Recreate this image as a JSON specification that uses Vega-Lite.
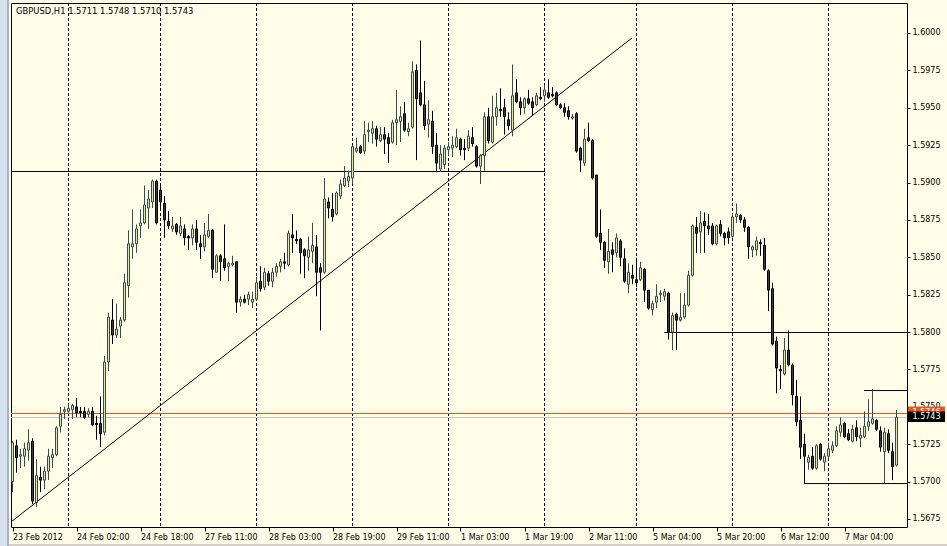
{
  "$schema": "https://vega.github.io/schema/vega-lite/v6.json",
  "width": 896,
  "height": 524,
  "autosize": "none",
  "padding": {"left": 11, "top": 3, "right": 40, "bottom": 19},
  "background": "#FFFDE7",
  "config": {
    "view": {"stroke": "#000000", "strokeWidth": 1},
    "font": "DejaVu Sans",
    "axis": {"labelFont": "DejaVu Sans", "labelFontSize": 8, "labelColor": "#000000", "tickColor": "#000000", "domain": false, "grid": false, "labelFlush": false, "labelOverlap": false},
    "axisX": {"tickSize": 4, "labelAlign": "left", "labelPadding": 2, "labelDx": -1},
    "axisY": {"tickSize": 3, "labelPadding": 2}
  },
  "datasets": {
    "candles": [
      {"i":0,"o":1.5700,"h":1.5727,"l":1.5693,"c":1.5726},
      {"i":1,"o":1.5724,"h":1.5728,"l":1.5706,"c":1.5716},
      {"i":2,"o":1.5717,"h":1.5722,"l":1.5709,"c":1.5718},
      {"i":3,"o":1.5717,"h":1.5726,"l":1.5710,"c":1.5722},
      {"i":4,"o":1.5721,"h":1.5735,"l":1.5714,"c":1.5726},
      {"i":5,"o":1.5727,"h":1.5729,"l":1.5685,"c":1.5687},
      {"i":6,"o":1.5686,"h":1.5715,"l":1.5683,"c":1.5704},
      {"i":7,"o":1.5703,"h":1.5710,"l":1.5693,"c":1.5701},
      {"i":8,"o":1.5701,"h":1.5710,"l":1.5695,"c":1.5707},
      {"i":9,"o":1.5707,"h":1.5722,"l":1.5701,"c":1.5717},
      {"i":10,"o":1.5716,"h":1.5722,"l":1.5709,"c":1.5718},
      {"i":11,"o":1.5718,"h":1.5737,"l":1.5717,"c":1.5736},
      {"i":12,"o":1.5737,"h":1.5750,"l":1.5733,"c":1.5745},
      {"i":13,"o":1.5747,"h":1.5750,"l":1.5742,"c":1.5748},
      {"i":14,"o":1.5747,"h":1.5752,"l":1.5746,"c":1.5749},
      {"i":15,"o":1.5748,"h":1.5752,"l":1.5742,"c":1.5751},
      {"i":16,"o":1.5750,"h":1.5756,"l":1.5743,"c":1.5746},
      {"i":17,"o":1.5747,"h":1.5750,"l":1.5743,"c":1.5746},
      {"i":18,"o":1.5747,"h":1.5750,"l":1.5742,"c":1.5743},
      {"i":19,"o":1.5745,"h":1.5749,"l":1.5743,"c":1.5747},
      {"i":20,"o":1.5747,"h":1.5750,"l":1.5737,"c":1.5738},
      {"i":21,"o":1.5739,"h":1.5744,"l":1.5728,"c":1.5738},
      {"i":22,"o":1.5739,"h":1.5757,"l":1.5723,"c":1.5732},
      {"i":23,"o":1.5733,"h":1.5784,"l":1.5731,"c":1.5780},
      {"i":24,"o":1.5780,"h":1.5813,"l":1.5774,"c":1.5810},
      {"i":25,"o":1.5808,"h":1.5822,"l":1.5792,"c":1.5798},
      {"i":26,"o":1.5798,"h":1.5819,"l":1.5796,"c":1.5802},
      {"i":27,"o":1.5804,"h":1.5810,"l":1.5796,"c":1.5808},
      {"i":28,"o":1.5808,"h":1.5839,"l":1.5807,"c":1.5833},
      {"i":29,"o":1.5831,"h":1.5868,"l":1.5823,"c":1.5859},
      {"i":30,"o":1.5857,"h":1.5882,"l":1.5849,"c":1.5859},
      {"i":31,"o":1.5859,"h":1.5872,"l":1.5853,"c":1.5869},
      {"i":32,"o":1.5871,"h":1.5882,"l":1.5863,"c":1.5873},
      {"i":33,"o":1.5873,"h":1.5898,"l":1.5872,"c":1.5885},
      {"i":34,"o":1.5883,"h":1.5895,"l":1.5869,"c":1.5889},
      {"i":35,"o":1.5887,"h":1.5902,"l":1.5883,"c":1.5901},
      {"i":36,"o":1.5901,"h":1.5902,"l":1.5872,"c":1.5873},
      {"i":37,"o":1.5895,"h":1.5898,"l":1.5883,"c":1.5887},
      {"i":38,"o":1.5886,"h":1.5891,"l":1.5863,"c":1.5875},
      {"i":39,"o":1.5874,"h":1.5881,"l":1.5869,"c":1.5871},
      {"i":40,"o":1.5869,"h":1.5877,"l":1.5867,"c":1.5871},
      {"i":41,"o":1.5872,"h":1.5873,"l":1.5865,"c":1.5867},
      {"i":42,"o":1.5866,"h":1.5877,"l":1.5864,"c":1.5871},
      {"i":43,"o":1.5869,"h":1.5872,"l":1.5858,"c":1.5863},
      {"i":44,"o":1.5864,"h":1.5865,"l":1.5855,"c":1.5863},
      {"i":45,"o":1.5863,"h":1.5872,"l":1.5858,"c":1.5869},
      {"i":46,"o":1.5869,"h":1.5875,"l":1.5855,"c":1.5860},
      {"i":47,"o":1.5859,"h":1.5865,"l":1.5849,"c":1.5857},
      {"i":48,"o":1.5857,"h":1.5873,"l":1.5854,"c":1.5865},
      {"i":49,"o":1.5864,"h":1.5879,"l":1.5863,"c":1.5868},
      {"i":50,"o":1.5868,"h":1.5869,"l":1.5836,"c":1.5842},
      {"i":51,"o":1.5840,"h":1.5852,"l":1.5840,"c":1.5851},
      {"i":52,"o":1.5851,"h":1.5852,"l":1.5834,"c":1.5847},
      {"i":53,"o":1.5849,"h":1.5872,"l":1.5841,"c":1.5843},
      {"i":54,"o":1.5844,"h":1.5847,"l":1.5834,"c":1.5846},
      {"i":55,"o":1.5845,"h":1.5851,"l":1.5844,"c":1.5846},
      {"i":56,"o":1.5847,"h":1.5847,"l":1.5813,"c":1.5820},
      {"i":57,"o":1.5820,"h":1.5824,"l":1.5817,"c":1.5822},
      {"i":58,"o":1.5822,"h":1.5825,"l":1.5819,"c":1.5820},
      {"i":59,"o":1.5822,"h":1.5827,"l":1.5818,"c":1.5825},
      {"i":60,"o":1.5820,"h":1.5827,"l":1.5816,"c":1.5822},
      {"i":61,"o":1.5822,"h":1.5837,"l":1.5821,"c":1.5833},
      {"i":62,"o":1.5834,"h":1.5844,"l":1.5827,"c":1.5829},
      {"i":63,"o":1.5830,"h":1.5843,"l":1.5828,"c":1.5840},
      {"i":64,"o":1.5839,"h":1.5841,"l":1.5831,"c":1.5834},
      {"i":65,"o":1.5834,"h":1.5843,"l":1.5830,"c":1.5840},
      {"i":66,"o":1.5840,"h":1.5846,"l":1.5837,"c":1.5844},
      {"i":67,"o":1.5844,"h":1.5849,"l":1.5840,"c":1.5847},
      {"i":68,"o":1.5847,"h":1.5853,"l":1.5842,"c":1.5846},
      {"i":69,"o":1.5845,"h":1.5868,"l":1.5844,"c":1.5866},
      {"i":70,"o":1.5865,"h":1.5879,"l":1.5853,"c":1.5863},
      {"i":71,"o":1.5862,"h":1.5868,"l":1.5859,"c":1.5861},
      {"i":72,"o":1.5862,"h":1.5863,"l":1.5839,"c":1.5853},
      {"i":73,"o":1.5855,"h":1.5856,"l":1.5836,"c":1.5851},
      {"i":74,"o":1.5850,"h":1.5864,"l":1.5841,"c":1.5855},
      {"i":75,"o":1.5854,"h":1.5873,"l":1.5846,"c":1.5858},
      {"i":76,"o":1.5857,"h":1.5865,"l":1.5824,"c":1.5840},
      {"i":77,"o":1.5843,"h":1.5846,"l":1.5801,"c":1.5840},
      {"i":78,"o":1.5840,"h":1.5903,"l":1.5839,"c":1.5889},
      {"i":79,"o":1.5887,"h":1.5890,"l":1.5876,"c":1.5883},
      {"i":80,"o":1.5882,"h":1.5893,"l":1.5874,"c":1.5877},
      {"i":81,"o":1.5879,"h":1.5894,"l":1.5878,"c":1.5893},
      {"i":82,"o":1.5891,"h":1.5902,"l":1.5889,"c":1.5899},
      {"i":83,"o":1.5898,"h":1.5911,"l":1.5897,"c":1.5903},
      {"i":84,"o":1.5901,"h":1.5908,"l":1.5897,"c":1.5904},
      {"i":85,"o":1.5903,"h":1.5925,"l":1.5899,"c":1.5924},
      {"i":86,"o":1.5921,"h":1.5930,"l":1.5920,"c":1.5923},
      {"i":87,"o":1.5924,"h":1.5925,"l":1.5919,"c":1.5920},
      {"i":88,"o":1.5921,"h":1.5941,"l":1.5919,"c":1.5932},
      {"i":89,"o":1.5934,"h":1.5940,"l":1.5927,"c":1.5935},
      {"i":90,"o":1.5933,"h":1.5941,"l":1.5926,"c":1.5936},
      {"i":91,"o":1.5936,"h":1.5938,"l":1.5924,"c":1.5929},
      {"i":92,"o":1.5928,"h":1.5937,"l":1.5927,"c":1.5932},
      {"i":93,"o":1.5932,"h":1.5937,"l":1.5919,"c":1.5929},
      {"i":94,"o":1.5930,"h":1.5933,"l":1.5913,"c":1.5926},
      {"i":95,"o":1.5927,"h":1.5942,"l":1.5926,"c":1.5940},
      {"i":96,"o":1.5940,"h":1.5962,"l":1.5925,"c":1.5942},
      {"i":97,"o":1.5941,"h":1.5951,"l":1.5927,"c":1.5944},
      {"i":98,"o":1.5946,"h":1.5954,"l":1.5934,"c":1.5935},
      {"i":99,"o":1.5934,"h":1.5940,"l":1.5931,"c":1.5936},
      {"i":100,"o":1.5937,"h":1.5981,"l":1.5936,"c":1.5974},
      {"i":101,"o":1.5975,"h":1.5979,"l":1.5915,"c":1.5956},
      {"i":102,"o":1.5960,"h":1.5995,"l":1.5951,"c":1.5952},
      {"i":103,"o":1.5952,"h":1.5968,"l":1.5935,"c":1.5938},
      {"i":104,"o":1.5939,"h":1.5955,"l":1.5930,"c":1.5942},
      {"i":105,"o":1.5941,"h":1.5948,"l":1.5919,"c":1.5924},
      {"i":106,"o":1.5925,"h":1.5933,"l":1.5907,"c":1.5913},
      {"i":107,"o":1.5909,"h":1.5925,"l":1.5907,"c":1.5919},
      {"i":108,"o":1.5912,"h":1.5925,"l":1.5909,"c":1.5923},
      {"i":109,"o":1.5922,"h":1.5927,"l":1.5918,"c":1.5924},
      {"i":110,"o":1.5923,"h":1.5931,"l":1.5917,"c":1.5925},
      {"i":111,"o":1.5924,"h":1.5936,"l":1.5923,"c":1.5930},
      {"i":112,"o":1.5929,"h":1.5930,"l":1.5918,"c":1.5922},
      {"i":113,"o":1.5923,"h":1.5929,"l":1.5915,"c":1.5922},
      {"i":114,"o":1.5923,"h":1.5935,"l":1.5921,"c":1.5931},
      {"i":115,"o":1.5930,"h":1.5937,"l":1.5924,"c":1.5926},
      {"i":116,"o":1.5924,"h":1.5925,"l":1.5910,"c":1.5911},
      {"i":117,"o":1.5911,"h":1.5919,"l":1.5899,"c":1.5918},
      {"i":118,"o":1.5918,"h":1.5947,"l":1.5908,"c":1.5944},
      {"i":119,"o":1.5944,"h":1.5950,"l":1.5926,"c":1.5928},
      {"i":120,"o":1.5927,"h":1.5958,"l":1.5926,"c":1.5944},
      {"i":121,"o":1.5944,"h":1.5960,"l":1.5938,"c":1.5950},
      {"i":122,"o":1.5949,"h":1.5963,"l":1.5944,"c":1.5948},
      {"i":123,"o":1.5950,"h":1.5956,"l":1.5932,"c":1.5944},
      {"i":124,"o":1.5942,"h":1.5947,"l":1.5935,"c":1.5938},
      {"i":125,"o":1.5935,"h":1.5979,"l":1.5931,"c":1.5958},
      {"i":126,"o":1.5960,"h":1.5969,"l":1.5953,"c":1.5954},
      {"i":127,"o":1.5954,"h":1.5957,"l":1.5945,"c":1.5950},
      {"i":128,"o":1.5950,"h":1.5957,"l":1.5946,"c":1.5956},
      {"i":129,"o":1.5956,"h":1.5962,"l":1.5952,"c":1.5953},
      {"i":130,"o":1.5954,"h":1.5957,"l":1.5945,"c":1.5950},
      {"i":131,"o":1.5952,"h":1.5960,"l":1.5951,"c":1.5958},
      {"i":132,"o":1.5957,"h":1.5964,"l":1.5955,"c":1.5956},
      {"i":133,"o":1.5958,"h":1.5965,"l":1.5954,"c":1.5962},
      {"i":134,"o":1.5960,"h":1.5969,"l":1.5956,"c":1.5957},
      {"i":135,"o":1.5959,"h":1.5964,"l":1.5957,"c":1.5958},
      {"i":136,"o":1.5960,"h":1.5961,"l":1.5951,"c":1.5952},
      {"i":137,"o":1.5952,"h":1.5953,"l":1.5949,"c":1.5950},
      {"i":138,"o":1.5950,"h":1.5953,"l":1.5944,"c":1.5947},
      {"i":139,"o":1.5948,"h":1.5951,"l":1.5942,"c":1.5944},
      {"i":140,"o":1.5943,"h":1.5946,"l":1.5942,"c":1.5944},
      {"i":141,"o":1.5946,"h":1.5947,"l":1.5920,"c":1.5921},
      {"i":142,"o":1.5923,"h":1.5924,"l":1.5907,"c":1.5915},
      {"i":143,"o":1.5913,"h":1.5936,"l":1.5911,"c":1.5929},
      {"i":144,"o":1.5930,"h":1.5940,"l":1.5927,"c":1.5928},
      {"i":145,"o":1.5928,"h":1.5929,"l":1.5902,"c":1.5903},
      {"i":146,"o":1.5905,"h":1.5905,"l":1.5863,"c":1.5864},
      {"i":147,"o":1.5866,"h":1.5882,"l":1.5855,"c":1.5860},
      {"i":148,"o":1.5860,"h":1.5861,"l":1.5843,"c":1.5848},
      {"i":149,"o":1.5847,"h":1.5869,"l":1.5839,"c":1.5854},
      {"i":150,"o":1.5855,"h":1.5860,"l":1.5840,"c":1.5852},
      {"i":151,"o":1.5853,"h":1.5866,"l":1.5850,"c":1.5863},
      {"i":152,"o":1.5861,"h":1.5862,"l":1.5844,"c":1.5850},
      {"i":153,"o":1.5849,"h":1.5856,"l":1.5833,"c":1.5834},
      {"i":154,"o":1.5832,"h":1.5846,"l":1.5826,"c":1.5840},
      {"i":155,"o":1.5838,"h":1.5845,"l":1.5832,"c":1.5836},
      {"i":156,"o":1.5835,"h":1.5849,"l":1.5830,"c":1.5833},
      {"i":157,"o":1.5835,"h":1.5847,"l":1.5834,"c":1.5843},
      {"i":158,"o":1.5842,"h":1.5843,"l":1.5820,"c":1.5828},
      {"i":159,"o":1.5828,"h":1.5828,"l":1.5815,"c":1.5816},
      {"i":160,"o":1.5815,"h":1.5821,"l":1.5811,"c":1.5819},
      {"i":161,"o":1.5820,"h":1.5832,"l":1.5816,"c":1.5824},
      {"i":162,"o":1.5825,"h":1.5828,"l":1.5820,"c":1.5826},
      {"i":163,"o":1.5824,"h":1.5829,"l":1.5821,"c":1.5827},
      {"i":164,"o":1.5826,"h":1.5827,"l":1.5795,"c":1.5800},
      {"i":165,"o":1.5800,"h":1.5813,"l":1.5788,"c":1.5811},
      {"i":166,"o":1.5812,"h":1.5813,"l":1.5788,"c":1.5808},
      {"i":167,"o":1.5808,"h":1.5826,"l":1.5807,"c":1.5810},
      {"i":168,"o":1.5810,"h":1.5826,"l":1.5809,"c":1.5818},
      {"i":169,"o":1.5818,"h":1.5841,"l":1.5817,"c":1.5838},
      {"i":170,"o":1.5838,"h":1.5872,"l":1.5837,"c":1.5871},
      {"i":171,"o":1.5870,"h":1.5877,"l":1.5853,"c":1.5866},
      {"i":172,"o":1.5867,"h":1.5881,"l":1.5853,"c":1.5873},
      {"i":173,"o":1.5874,"h":1.5880,"l":1.5853,"c":1.5871},
      {"i":174,"o":1.5871,"h":1.5879,"l":1.5865,"c":1.5869},
      {"i":175,"o":1.5871,"h":1.5873,"l":1.5858,"c":1.5859},
      {"i":176,"o":1.5859,"h":1.5872,"l":1.5858,"c":1.5871},
      {"i":177,"o":1.5872,"h":1.5875,"l":1.5864,"c":1.5866},
      {"i":178,"o":1.5866,"h":1.5867,"l":1.5858,"c":1.5863},
      {"i":179,"o":1.5867,"h":1.5870,"l":1.5859,"c":1.5863},
      {"i":180,"o":1.5864,"h":1.5879,"l":1.5863,"c":1.5877},
      {"i":181,"o":1.5877,"h":1.5886,"l":1.5873,"c":1.5879},
      {"i":182,"o":1.5878,"h":1.5879,"l":1.5873,"c":1.5875},
      {"i":183,"o":1.5875,"h":1.5877,"l":1.5867,"c":1.5870},
      {"i":184,"o":1.5870,"h":1.5871,"l":1.5849,"c":1.5857},
      {"i":185,"o":1.5855,"h":1.5858,"l":1.5850,"c":1.5857},
      {"i":186,"o":1.5855,"h":1.5864,"l":1.5851,"c":1.5861},
      {"i":187,"o":1.5860,"h":1.5862,"l":1.5851,"c":1.5859},
      {"i":188,"o":1.5858,"h":1.5863,"l":1.5841,"c":1.5842},
      {"i":189,"o":1.5841,"h":1.5842,"l":1.5814,"c":1.5828},
      {"i":190,"o":1.5829,"h":1.5833,"l":1.5791,"c":1.5792},
      {"i":191,"o":1.5794,"h":1.5797,"l":1.5759,"c":1.5776},
      {"i":192,"o":1.5775,"h":1.5778,"l":1.5762,"c":1.5774},
      {"i":193,"o":1.5772,"h":1.5796,"l":1.5771,"c":1.5788},
      {"i":194,"o":1.5788,"h":1.5801,"l":1.5777,"c":1.5778},
      {"i":195,"o":1.5778,"h":1.5779,"l":1.5751,"c":1.5758},
      {"i":196,"o":1.5757,"h":1.5768,"l":1.5737,"c":1.5740},
      {"i":197,"o":1.5741,"h":1.5757,"l":1.5715,"c":1.5723},
      {"i":198,"o":1.5725,"h":1.5732,"l":1.5699,"c":1.5717},
      {"i":199,"o":1.5713,"h":1.5718,"l":1.5708,"c":1.5716},
      {"i":200,"o":1.5717,"h":1.5723,"l":1.5708,"c":1.5709},
      {"i":201,"o":1.5709,"h":1.5725,"l":1.5708,"c":1.5724},
      {"i":202,"o":1.5725,"h":1.5726,"l":1.5714,"c":1.5715},
      {"i":203,"o":1.5713,"h":1.5719,"l":1.5707,"c":1.5717},
      {"i":204,"o":1.5717,"h":1.5726,"l":1.5715,"c":1.5722},
      {"i":205,"o":1.5721,"h":1.5727,"l":1.5719,"c":1.5724},
      {"i":206,"o":1.5724,"h":1.5737,"l":1.5723,"c":1.5734},
      {"i":207,"o":1.5733,"h":1.5743,"l":1.5730,"c":1.5738},
      {"i":208,"o":1.5739,"h":1.5740,"l":1.5729,"c":1.5730},
      {"i":209,"o":1.5732,"h":1.5735,"l":1.5727,"c":1.5728},
      {"i":210,"o":1.5727,"h":1.5738,"l":1.5726,"c":1.5735},
      {"i":211,"o":1.5736,"h":1.5741,"l":1.5727,"c":1.5730},
      {"i":212,"o":1.5729,"h":1.5736,"l":1.5723,"c":1.5731},
      {"i":213,"o":1.5730,"h":1.5747,"l":1.5729,"c":1.5737},
      {"i":214,"o":1.5737,"h":1.5755,"l":1.5734,"c":1.5740},
      {"i":215,"o":1.5739,"h":1.5762,"l":1.5738,"c":1.5742},
      {"i":216,"o":1.5741,"h":1.5742,"l":1.5734,"c":1.5735},
      {"i":217,"o":1.5734,"h":1.5737,"l":1.5720,"c":1.5723},
      {"i":218,"o":1.5720,"h":1.5736,"l":1.5699,"c":1.5733},
      {"i":219,"o":1.5732,"h":1.5735,"l":1.5719,"c":1.5721},
      {"i":220,"o":1.5720,"h":1.5726,"l":1.5701,"c":1.5710},
      {"i":221,"o":1.5711,"h":1.5748,"l":1.5710,"c":1.5743}
    ],
    "separators": [{"i":14},{"i":37},{"i":61},{"i":85},{"i":109},{"i":133},{"i":156},{"i":180},{"i":204}],
    "hlines": [
      {"a":-0.375,"b":133.125,"p":1.59074},
      {"a":162.95,"b":223.625,"p":1.57997},
      {"a":212.875,"b":223.625,"p":1.57609},
      {"a":197.875,"b":223.625,"p":1.56987}
    ],
    "trend": [{"i":-0.3,"p":1.56732},{"i":154.875,"p":1.59967}],
    "prices": [{"kind":"ask","p":1.574555},{"kind":"bid","p":1.574288}],
    "one": [{}]
  },
  "layer": [
    {
      "data": {"name": "one"},
      "mark": {"type": "rect", "color": "#D6E2EF"},
      "encoding": {
        "x": {"datum": -3.2, "type": "quantitative", "scale": {"domain": [-0.375, 223.625], "nice": false, "zero": false, "padding": 0}, "axis": {"orient": "bottom", "title": null, "values": [0, 16, 32, 48, 64, 80, 96, 112, 128, 144, 160, 176, 192, 208], "labelExpr": "['23 Feb 2012','24 Feb 02:00','24 Feb 18:00','27 Feb 11:00','28 Feb 03:00','28 Feb 19:00','29 Feb 11:00','1 Mar 03:00','1 Mar 19:00','2 Mar 11:00','5 Mar 04:00','5 Mar 20:00','6 Mar 12:00','7 Mar 04:00'][round(datum.value / 16)]"}},
        "x2": {"datum": -1.375},
        "y": {"datum": 1.6023, "type": "quantitative", "scale": {"domain": [1.566965, 1.602006], "nice": false, "zero": false, "padding": 0}, "axis": {"orient": "right", "title": null, "format": ".4f", "values": [1.5675, 1.57, 1.5725, 1.575, 1.5775, 1.58, 1.5825, 1.585, 1.5875, 1.59, 1.5925, 1.595, 1.5975, 1.6]}},
        "y2": {"datum": 1.5656}
      }
    },
    {
      "data": {"name": "one"},
      "mark": {"type": "rect", "color": "#A9B3BF"},
      "encoding": {
        "x": {"datum": -1.375, "type": "quantitative", "scale": {"domain": [-0.375, 223.625], "nice": false, "zero": false, "padding": 0}, "axis": {"orient": "bottom", "title": null, "values": [0, 16, 32, 48, 64, 80, 96, 112, 128, 144, 160, 176, 192, 208], "labelExpr": "['23 Feb 2012','24 Feb 02:00','24 Feb 18:00','27 Feb 11:00','28 Feb 03:00','28 Feb 19:00','29 Feb 11:00','1 Mar 03:00','1 Mar 19:00','2 Mar 11:00','5 Mar 04:00','5 Mar 20:00','6 Mar 12:00','7 Mar 04:00'][round(datum.value / 16)]"}},
        "x2": {"datum": -0.875},
        "y": {"datum": 1.6023, "type": "quantitative", "scale": {"domain": [1.566965, 1.602006], "nice": false, "zero": false, "padding": 0}, "axis": {"orient": "right", "title": null, "format": ".4f", "values": [1.5675, 1.57, 1.5725, 1.575, 1.5775, 1.58, 1.5825, 1.585, 1.5875, 1.59, 1.5925, 1.595, 1.5975, 1.6]}},
        "y2": {"datum": 1.5656}
      }
    },
    {
      "data": {"name": "one"},
      "mark": {"type": "rect", "color": "#D4D0C8"},
      "encoding": {
        "x": {"datum": -0.875, "type": "quantitative", "scale": {"domain": [-0.375, 223.625], "nice": false, "zero": false, "padding": 0}, "axis": {"orient": "bottom", "title": null, "values": [0, 16, 32, 48, 64, 80, 96, 112, 128, 144, 160, 176, 192, 208], "labelExpr": "['23 Feb 2012','24 Feb 02:00','24 Feb 18:00','27 Feb 11:00','28 Feb 03:00','28 Feb 19:00','29 Feb 11:00','1 Mar 03:00','1 Mar 19:00','2 Mar 11:00','5 Mar 04:00','5 Mar 20:00','6 Mar 12:00','7 Mar 04:00'][round(datum.value / 16)]"}},
        "x2": {"datum": 234},
        "y": {"datum": 1.56583, "type": "quantitative", "scale": {"domain": [1.566965, 1.602006], "nice": false, "zero": false, "padding": 0}, "axis": {"orient": "right", "title": null, "format": ".4f", "values": [1.5675, 1.57, 1.5725, 1.575, 1.5775, 1.58, 1.5825, 1.585, 1.5875, 1.59, 1.5925, 1.595, 1.5975, 1.6]}},
        "y2": {"datum": 1.5656}
      }
    },
    {
      "data": {"name": "separators"},
      "mark": {"type": "rule", "color": "#000000", "strokeWidth": 1, "strokeDash": [3, 2]},
      "encoding": {
        "x": {"field": "i", "type": "quantitative", "scale": {"domain": [-0.375, 223.625], "nice": false, "zero": false, "padding": 0}, "axis": {"orient": "bottom", "title": null, "values": [0, 16, 32, 48, 64, 80, 96, 112, 128, 144, 160, 176, 192, 208], "labelExpr": "['23 Feb 2012','24 Feb 02:00','24 Feb 18:00','27 Feb 11:00','28 Feb 03:00','28 Feb 19:00','29 Feb 11:00','1 Mar 03:00','1 Mar 19:00','2 Mar 11:00','5 Mar 04:00','5 Mar 20:00','6 Mar 12:00','7 Mar 04:00'][round(datum.value / 16)]"}}
      }
    },
    {
      "data": {"name": "prices"},
      "mark": {"type": "rule", "strokeWidth": 1},
      "encoding": {
        "y": {"field": "p", "type": "quantitative", "scale": {"domain": [1.566965, 1.602006], "nice": false, "zero": false, "padding": 0}, "axis": {"orient": "right", "title": null, "format": ".4f", "values": [1.5675, 1.57, 1.5725, 1.575, 1.5775, 1.58, 1.5825, 1.585, 1.5875, 1.59, 1.5925, 1.595, 1.5975, 1.6]}},
        "color": {"field": "kind", "type": "nominal", "scale": {"domain": ["ask", "bid"], "range": ["#F0521E", "#C0C0C0"]}, "legend": null}
      }
    },
    {
      "data": {"name": "hlines"},
      "mark": {"type": "rule", "color": "#000000", "strokeWidth": 1},
      "encoding": {
        "x": {"field": "a", "type": "quantitative", "scale": {"domain": [-0.375, 223.625], "nice": false, "zero": false, "padding": 0}, "axis": {"orient": "bottom", "title": null, "values": [0, 16, 32, 48, 64, 80, 96, 112, 128, 144, 160, 176, 192, 208], "labelExpr": "['23 Feb 2012','24 Feb 02:00','24 Feb 18:00','27 Feb 11:00','28 Feb 03:00','28 Feb 19:00','29 Feb 11:00','1 Mar 03:00','1 Mar 19:00','2 Mar 11:00','5 Mar 04:00','5 Mar 20:00','6 Mar 12:00','7 Mar 04:00'][round(datum.value / 16)]"}},
        "x2": {"field": "b"},
        "y": {"field": "p", "type": "quantitative", "scale": {"domain": [1.566965, 1.602006], "nice": false, "zero": false, "padding": 0}, "axis": {"orient": "right", "title": null, "format": ".4f", "values": [1.5675, 1.57, 1.5725, 1.575, 1.5775, 1.58, 1.5825, 1.585, 1.5875, 1.59, 1.5925, 1.595, 1.5975, 1.6]}}
      }
    },
    {
      "data": {"name": "trend"},
      "mark": {"type": "line", "color": "#000000", "strokeWidth": 1},
      "encoding": {
        "x": {"field": "i", "type": "quantitative", "scale": {"domain": [-0.375, 223.625], "nice": false, "zero": false, "padding": 0}, "axis": {"orient": "bottom", "title": null, "values": [0, 16, 32, 48, 64, 80, 96, 112, 128, 144, 160, 176, 192, 208], "labelExpr": "['23 Feb 2012','24 Feb 02:00','24 Feb 18:00','27 Feb 11:00','28 Feb 03:00','28 Feb 19:00','29 Feb 11:00','1 Mar 03:00','1 Mar 19:00','2 Mar 11:00','5 Mar 04:00','5 Mar 20:00','6 Mar 12:00','7 Mar 04:00'][round(datum.value / 16)]"}},
        "y": {"field": "p", "type": "quantitative", "scale": {"domain": [1.566965, 1.602006], "nice": false, "zero": false, "padding": 0}, "axis": {"orient": "right", "title": null, "format": ".4f", "values": [1.5675, 1.57, 1.5725, 1.575, 1.5775, 1.58, 1.5825, 1.585, 1.5875, 1.59, 1.5925, 1.595, 1.5975, 1.6]}}
      }
    },
    {
      "data": {"name": "candles"},
      "mark": {"type": "rule", "strokeWidth": 1},
      "encoding": {
        "x": {"field": "i", "type": "quantitative", "scale": {"domain": [-0.375, 223.625], "nice": false, "zero": false, "padding": 0}, "axis": {"orient": "bottom", "title": null, "values": [0, 16, 32, 48, 64, 80, 96, 112, 128, 144, 160, 176, 192, 208], "labelExpr": "['23 Feb 2012','24 Feb 02:00','24 Feb 18:00','27 Feb 11:00','28 Feb 03:00','28 Feb 19:00','29 Feb 11:00','1 Mar 03:00','1 Mar 19:00','2 Mar 11:00','5 Mar 04:00','5 Mar 20:00','6 Mar 12:00','7 Mar 04:00'][round(datum.value / 16)]"}},
        "y": {"field": "l", "type": "quantitative", "scale": {"domain": [1.566965, 1.602006], "nice": false, "zero": false, "padding": 0}, "axis": {"orient": "right", "title": null, "format": ".4f", "values": [1.5675, 1.57, 1.5725, 1.575, 1.5775, 1.58, 1.5825, 1.585, 1.5875, 1.59, 1.5925, 1.595, 1.5975, 1.6]}},
        "y2": {"field": "h"},
        "color": {"condition": {"test": "datum.c >= datum.o", "value": "#2F4F4F"}, "value": "#000000"}
      }
    },
    {
      "data": {"name": "candles"},
      "mark": {"type": "bar", "size": 2, "strokeWidth": 1},
      "encoding": {
        "x": {"field": "i", "type": "quantitative", "scale": {"domain": [-0.375, 223.625], "nice": false, "zero": false, "padding": 0}, "axis": {"orient": "bottom", "title": null, "values": [0, 16, 32, 48, 64, 80, 96, 112, 128, 144, 160, 176, 192, 208], "labelExpr": "['23 Feb 2012','24 Feb 02:00','24 Feb 18:00','27 Feb 11:00','28 Feb 03:00','28 Feb 19:00','29 Feb 11:00','1 Mar 03:00','1 Mar 19:00','2 Mar 11:00','5 Mar 04:00','5 Mar 20:00','6 Mar 12:00','7 Mar 04:00'][round(datum.value / 16)]"}},
        "y": {"field": "o", "type": "quantitative", "scale": {"domain": [1.566965, 1.602006], "nice": false, "zero": false, "padding": 0}, "axis": {"orient": "right", "title": null, "format": ".4f", "values": [1.5675, 1.57, 1.5725, 1.575, 1.5775, 1.58, 1.5825, 1.585, 1.5875, 1.59, 1.5925, 1.595, 1.5975, 1.6]}},
        "y2": {"field": "c"},
        "fill": {"condition": {"test": "datum.c >= datum.o", "value": "#F0E68C"}, "value": "#3C3C3C"},
        "stroke": {"condition": {"test": "datum.c >= datum.o", "value": "#2F4F4F"}, "value": "#000000"}
      }
    },
    {
      "data": {"name": "one"},
      "mark": {"type": "rect", "color": "#F0521E"},
      "encoding": {
        "x": {"datum": 223.875, "type": "quantitative", "scale": {"domain": [-0.375, 223.625], "nice": false, "zero": false, "padding": 0}, "axis": {"orient": "bottom", "title": null, "values": [0, 16, 32, 48, 64, 80, 96, 112, 128, 144, 160, 176, 192, 208], "labelExpr": "['23 Feb 2012','24 Feb 02:00','24 Feb 18:00','27 Feb 11:00','28 Feb 03:00','28 Feb 19:00','29 Feb 11:00','1 Mar 03:00','1 Mar 19:00','2 Mar 11:00','5 Mar 04:00','5 Mar 20:00','6 Mar 12:00','7 Mar 04:00'][round(datum.value / 16)]"}},
        "x2": {"datum": 233.125},
        "y": {"datum": 1.57502, "type": "quantitative", "scale": {"domain": [1.566965, 1.602006], "nice": false, "zero": false, "padding": 0}, "axis": {"orient": "right", "title": null, "format": ".4f", "values": [1.5675, 1.57, 1.5725, 1.575, 1.5775, 1.58, 1.5825, 1.585, 1.5875, 1.59, 1.5925, 1.595, 1.5975, 1.6]}},
        "y2": {"datum": 1.57435}
      }
    },
    {
      "data": {"name": "one"},
      "mark": {"type": "text", "color": "#FFFFFF", "fontSize": 8, "align": "center", "baseline": "middle"},
      "encoding": {
        "x": {"datum": 228.5, "type": "quantitative", "scale": {"domain": [-0.375, 223.625], "nice": false, "zero": false, "padding": 0}, "axis": {"orient": "bottom", "title": null, "values": [0, 16, 32, 48, 64, 80, 96, 112, 128, 144, 160, 176, 192, 208], "labelExpr": "['23 Feb 2012','24 Feb 02:00','24 Feb 18:00','27 Feb 11:00','28 Feb 03:00','28 Feb 19:00','29 Feb 11:00','1 Mar 03:00','1 Mar 19:00','2 Mar 11:00','5 Mar 04:00','5 Mar 20:00','6 Mar 12:00','7 Mar 04:00'][round(datum.value / 16)]"}},
        "y": {"datum": 1.57462, "type": "quantitative", "scale": {"domain": [1.566965, 1.602006], "nice": false, "zero": false, "padding": 0}, "axis": {"orient": "right", "title": null, "format": ".4f", "values": [1.5675, 1.57, 1.5725, 1.575, 1.5775, 1.58, 1.5825, 1.585, 1.5875, 1.59, 1.5925, 1.595, 1.5975, 1.6]}},
        "text": {"value": "1.5746"}
      }
    },
    {
      "data": {"name": "one"},
      "mark": {"type": "rect", "color": "#000000"},
      "encoding": {
        "x": {"datum": 223.875, "type": "quantitative", "scale": {"domain": [-0.375, 223.625], "nice": false, "zero": false, "padding": 0}, "axis": {"orient": "bottom", "title": null, "values": [0, 16, 32, 48, 64, 80, 96, 112, 128, 144, 160, 176, 192, 208], "labelExpr": "['23 Feb 2012','24 Feb 02:00','24 Feb 18:00','27 Feb 11:00','28 Feb 03:00','28 Feb 19:00','29 Feb 11:00','1 Mar 03:00','1 Mar 19:00','2 Mar 11:00','5 Mar 04:00','5 Mar 20:00','6 Mar 12:00','7 Mar 04:00'][round(datum.value / 16)]"}},
        "x2": {"datum": 233.125},
        "y": {"datum": 1.57469, "type": "quantitative", "scale": {"domain": [1.566965, 1.602006], "nice": false, "zero": false, "padding": 0}, "axis": {"orient": "right", "title": null, "format": ".4f", "values": [1.5675, 1.57, 1.5725, 1.575, 1.5775, 1.58, 1.5825, 1.585, 1.5875, 1.59, 1.5925, 1.595, 1.5975, 1.6]}},
        "y2": {"datum": 1.57399}
      }
    },
    {
      "data": {"name": "one"},
      "mark": {"type": "text", "color": "#FFFFFF", "fontSize": 8, "align": "center", "baseline": "middle"},
      "encoding": {
        "x": {"datum": 228.5, "type": "quantitative", "scale": {"domain": [-0.375, 223.625], "nice": false, "zero": false, "padding": 0}, "axis": {"orient": "bottom", "title": null, "values": [0, 16, 32, 48, 64, 80, 96, 112, 128, 144, 160, 176, 192, 208], "labelExpr": "['23 Feb 2012','24 Feb 02:00','24 Feb 18:00','27 Feb 11:00','28 Feb 03:00','28 Feb 19:00','29 Feb 11:00','1 Mar 03:00','1 Mar 19:00','2 Mar 11:00','5 Mar 04:00','5 Mar 20:00','6 Mar 12:00','7 Mar 04:00'][round(datum.value / 16)]"}},
        "y": {"datum": 1.57434, "type": "quantitative", "scale": {"domain": [1.566965, 1.602006], "nice": false, "zero": false, "padding": 0}, "axis": {"orient": "right", "title": null, "format": ".4f", "values": [1.5675, 1.57, 1.5725, 1.575, 1.5775, 1.58, 1.5825, 1.585, 1.5875, 1.59, 1.5925, 1.595, 1.5975, 1.6]}},
        "text": {"value": "1.5743"}
      }
    },
    {
      "data": {"name": "one"},
      "mark": {"type": "text", "color": "#000000", "fontSize": 8.4, "align": "left", "baseline": "alphabetic"},
      "encoding": {
        "x": {"datum": 0.875, "type": "quantitative", "scale": {"domain": [-0.375, 223.625], "nice": false, "zero": false, "padding": 0}, "axis": {"orient": "bottom", "title": null, "values": [0, 16, 32, 48, 64, 80, 96, 112, 128, 144, 160, 176, 192, 208], "labelExpr": "['23 Feb 2012','24 Feb 02:00','24 Feb 18:00','27 Feb 11:00','28 Feb 03:00','28 Feb 19:00','29 Feb 11:00','1 Mar 03:00','1 Mar 19:00','2 Mar 11:00','5 Mar 04:00','5 Mar 20:00','6 Mar 12:00','7 Mar 04:00'][round(datum.value / 16)]"}},
        "y": {"datum": 1.60127, "type": "quantitative", "scale": {"domain": [1.566965, 1.602006], "nice": false, "zero": false, "padding": 0}, "axis": {"orient": "right", "title": null, "format": ".4f", "values": [1.5675, 1.57, 1.5725, 1.575, 1.5775, 1.58, 1.5825, 1.585, 1.5875, 1.59, 1.5925, 1.595, 1.5975, 1.6]}},
        "text": {"value": "GBPUSD,H1  1.5711 1.5748 1.5710 1.5743"}
      }
    }
  ]
}
